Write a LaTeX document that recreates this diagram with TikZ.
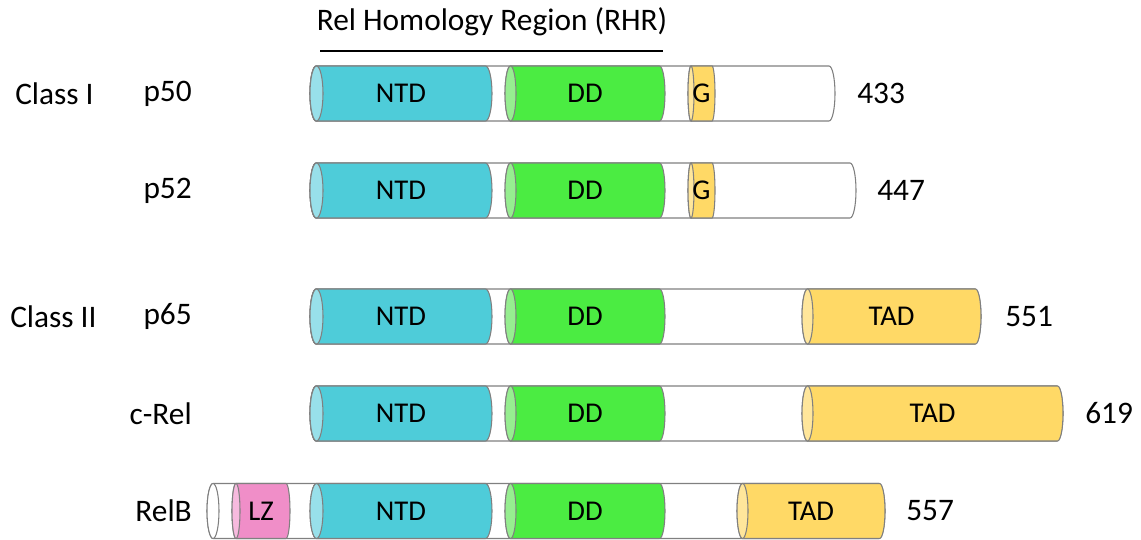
\documentclass[tikz,border=0pt]{standalone}
\usepackage{fontspec}
\setmainfont{Carlito}
\definecolor{ntdbody}{RGB}{78,204,217}
\definecolor{ntdface}{RGB}{152,224,234}
\definecolor{ddbody}{RGB}{75,236,66}
\definecolor{ddface}{RGB}{150,238,144}
\definecolor{tadbody}{RGB}{255,217,102}
\definecolor{tadface}{RGB}{255,230,155}
\definecolor{lzbody}{RGB}{240,142,200}
\definecolor{lzface}{RGB}{247,186,222}
\definecolor{edge}{RGB}{128,128,128}
% half height of a cylinder, in picture units
\def\segh{27.5}
% one cylinder segment: #1 label node name, #2 left x, #3 right x, #4 centre y,
% #5 end-cap x radius (picture units), #6 body colour, #7 cap colour, #8 label text
\newcommand\protseg[8]{%
  \draw[segline, fill=#6] ({#2+#5},{#4+\segh})
     -- ({#3-#5},{#4+\segh})
     arc[start angle=90, end angle=-90, x radius=#5, y radius=\segh]
     -- ({#2+#5},{#4-\segh})
     arc[start angle=270, end angle=90, x radius=#5, y radius=\segh] -- cycle;
  \draw[segline, fill=#7] ({#2+#5},{#4}) ellipse[x radius=#5, y radius=\segh];
  \node[seglabel] (#1) at ({(#2+#3)/2},{#4}) {#8};
}
\begin{document}
\begin{tikzpicture}[x=0.75pt,y=0.75pt,
  segline/.style={draw=edge, line width=0.8pt},
  seglabel/.style={font=\fontsize{21.5}{25}\selectfont, inner sep=0pt},
  sidelabel/.style={font=\fontsize{23.5}{28}\selectfont, inner sep=0pt},
  rhrline/.style={line width=2pt, black}]
\useasboundingbox[fill=white] (0,0) rectangle (1141,539);

% Rel homology region bracket
\node[sidelabel] (rhr) at (492,517) {Rel Homology Region (RHR)};
\coordinate (rhrL) at (320,488);
\coordinate (rhrR) at (663,488);
\draw[rhrline] (rhrL) -- (rhrR);

% class labels
\node[sidelabel, anchor=west] (classI) at (15,445.5) {Class I};
\node[sidelabel, anchor=west] (classII) at (10,222.5) {Class II};

% p50
\node[sidelabel, anchor=east] (p50) at (192,445.5) {p50};
\protseg{p50bg}{310}{835}{445.5}{6}{white}{white}{}
\protseg{p50ntd}{310}{492}{445.5}{6.5}{ntdbody}{ntdface}{NTD}
\protseg{p50dd}{505}{665}{445.5}{5.5}{ddbody}{ddface}{DD}
\protseg{p50g}{688}{715}{445.5}{3}{tadbody}{tadface}{G}
\node[sidelabel, anchor=west] (p50len) at (857,445.5) {433};

% p52
\node[sidelabel, anchor=east] (p52) at (192,348.5) {p52};
\protseg{p52bg}{310}{856}{348.5}{6}{white}{white}{}
\protseg{p52ntd}{310}{492}{348.5}{6.5}{ntdbody}{ntdface}{NTD}
\protseg{p52dd}{505}{665}{348.5}{5.5}{ddbody}{ddface}{DD}
\protseg{p52g}{688}{715}{348.5}{3}{tadbody}{tadface}{G}
\node[sidelabel, anchor=west] (p52len) at (877,348.5) {447};

% p65
\node[sidelabel, anchor=east] (p65) at (192,222.5) {p65};
\protseg{p65bg}{310}{981}{222.5}{6}{white}{white}{}
\protseg{p65ntd}{310}{492}{222.5}{6.5}{ntdbody}{ntdface}{NTD}
\protseg{p65dd}{505}{665}{222.5}{5.5}{ddbody}{ddface}{DD}
\protseg{p65tad}{802}{981}{222.5}{5.5}{tadbody}{tadface}{TAD}
\node[sidelabel, anchor=west] (p65len) at (1005,222.5) {551};

% c-Rel
\node[sidelabel, anchor=east] (crel) at (192,125.5) {c-Rel};
\protseg{crelbg}{310}{1063}{125.5}{6}{white}{white}{}
\protseg{crelntd}{310}{492}{125.5}{6.5}{ntdbody}{ntdface}{NTD}
\protseg{creldd}{505}{665}{125.5}{5.5}{ddbody}{ddface}{DD}
\protseg{creltad}{802}{1063}{125.5}{5.5}{tadbody}{tadface}{TAD}
\node[sidelabel, anchor=west] (crellen) at (1085,125.5) {619};

% RelB
\node[sidelabel, anchor=east] (relb) at (192,28) {RelB};
\protseg{relbbg}{207}{885}{28}{6}{white}{white}{}
\protseg{relblz}{232}{290}{28}{4}{lzbody}{lzface}{LZ}
\protseg{relbntd}{310}{492}{28}{6.5}{ntdbody}{ntdface}{NTD}
\protseg{relbdd}{505}{665}{28}{5.5}{ddbody}{ddface}{DD}
\protseg{relbtad}{737}{885}{28}{5.5}{tadbody}{tadface}{TAD}
\node[sidelabel, anchor=west] (relblen) at (906,28) {557};
\end{tikzpicture}
\end{document}
